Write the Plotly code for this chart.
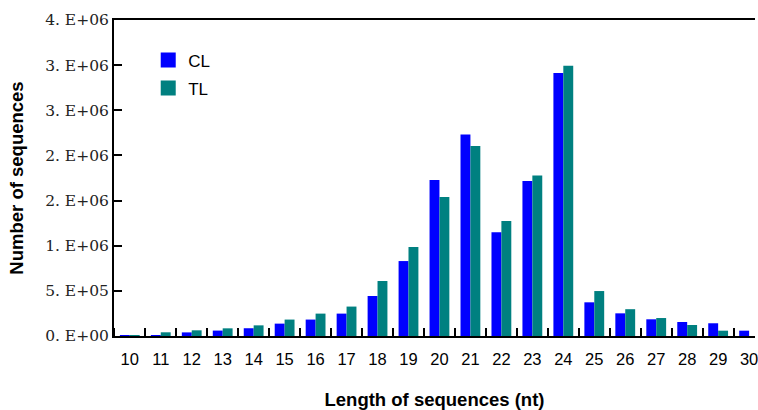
import plotly.graph_objects as go

lengths = list(range(10, 31))
cl_values = [8000, 8000, 40000, 60000, 86000, 137000, 182000, 248000, 443000, 830000,
             1727000, 2233000, 1148000, 1716000, 2912000, 373000, 251000, 185000, 155000, 141000, 59000]
tl_values = [5000, 41000, 63000, 85000, 118000, 182000, 248000, 326000, 609000, 985000,
             1539000, 2104000, 1273000, 1779000, 2993000, 498000, 297000, 199000, 122000, 59000, 0]
y_tickvals = [0, 500000, 1000000, 1500000, 2000000, 2500000, 3000000, 3500000]
y_ticktext = ["0. E+00", "5. E+05", "1. E+06", "2. E+06", "2. E+06", "3. E+06", "3. E+06", "4. E+06"]
series_names = ["CL", "TL"]
series_colors = ["#0000FF", "#008080"]

fig = go.Figure()
for name, vals, col in zip(series_names, [cl_values, tl_values], series_colors):
    fig.add_trace(go.Bar(x=lengths, y=vals, name=name, legendgroup=name, showlegend=False,
                         marker=dict(color=col, line=dict(width=0))))
# legend entries with larger square swatches
for name, col in zip(series_names, series_colors):
    fig.add_trace(go.Scatter(x=[None], y=[None], mode="markers", name=name, legendgroup=name,
                             marker=dict(symbol="square", size=15, color=col, line=dict(width=0))))

fig.update_layout(
    width=758, height=410,
    margin=dict(l=114, r=0, t=20, b=74),
    paper_bgcolor="white", plot_bgcolor="white",
    barmode="group", bargap=0.36, bargroupgap=0,
    showlegend=True,
    legend=dict(x=0.0534, y=0.929, xanchor="left", yanchor="top",
                font=dict(family="Liberation Sans, Arial", size=17, color="black"),
                bgcolor="rgba(0,0,0,0)", tracegroupgap=3),
    font=dict(family="Liberation Sans, Arial", color="black"),
)
fig.update_xaxes(
    range=[9.49, 30.19],
    tickmode="array", tickvals=lengths, ticktext=[str(v) for v in lengths],
    ticks="", showgrid=False, zeroline=False, ticklabeloverflow="allow",
    ticklabelstandoff=7,
    showline=True, linecolor="black", linewidth=2, mirror=True,
    tickfont=dict(family="Liberation Sans, Arial", size=16.5, color="black"),
    minor=dict(ticks="inside", tick0=9.5, dtick=1, ticklen=8, tickwidth=2, tickcolor="black", showgrid=False),
    title=dict(text="<b>Length of sequences (nt)</b>", font=dict(family="Liberation Sans, Arial", size=18.5, color="black"), standoff=29),
)
fig.update_yaxes(
    range=[0, 3500000],
    tickmode="array", tickvals=y_tickvals, ticktext=y_ticktext,
    ticks="inside", ticklen=8, tickwidth=2, tickcolor="black",
    showgrid=False, zeroline=False,
    showline=True, linecolor="black", linewidth=2,
    tickfont=dict(family="DejaVu Serif", size=15.5, color="#222222"),
    title=dict(text="<b>Number of sequences</b>", font=dict(family="Liberation Sans, Arial", size=18.5, color="black"), standoff=17),
)

fig.write_html("out.html")
